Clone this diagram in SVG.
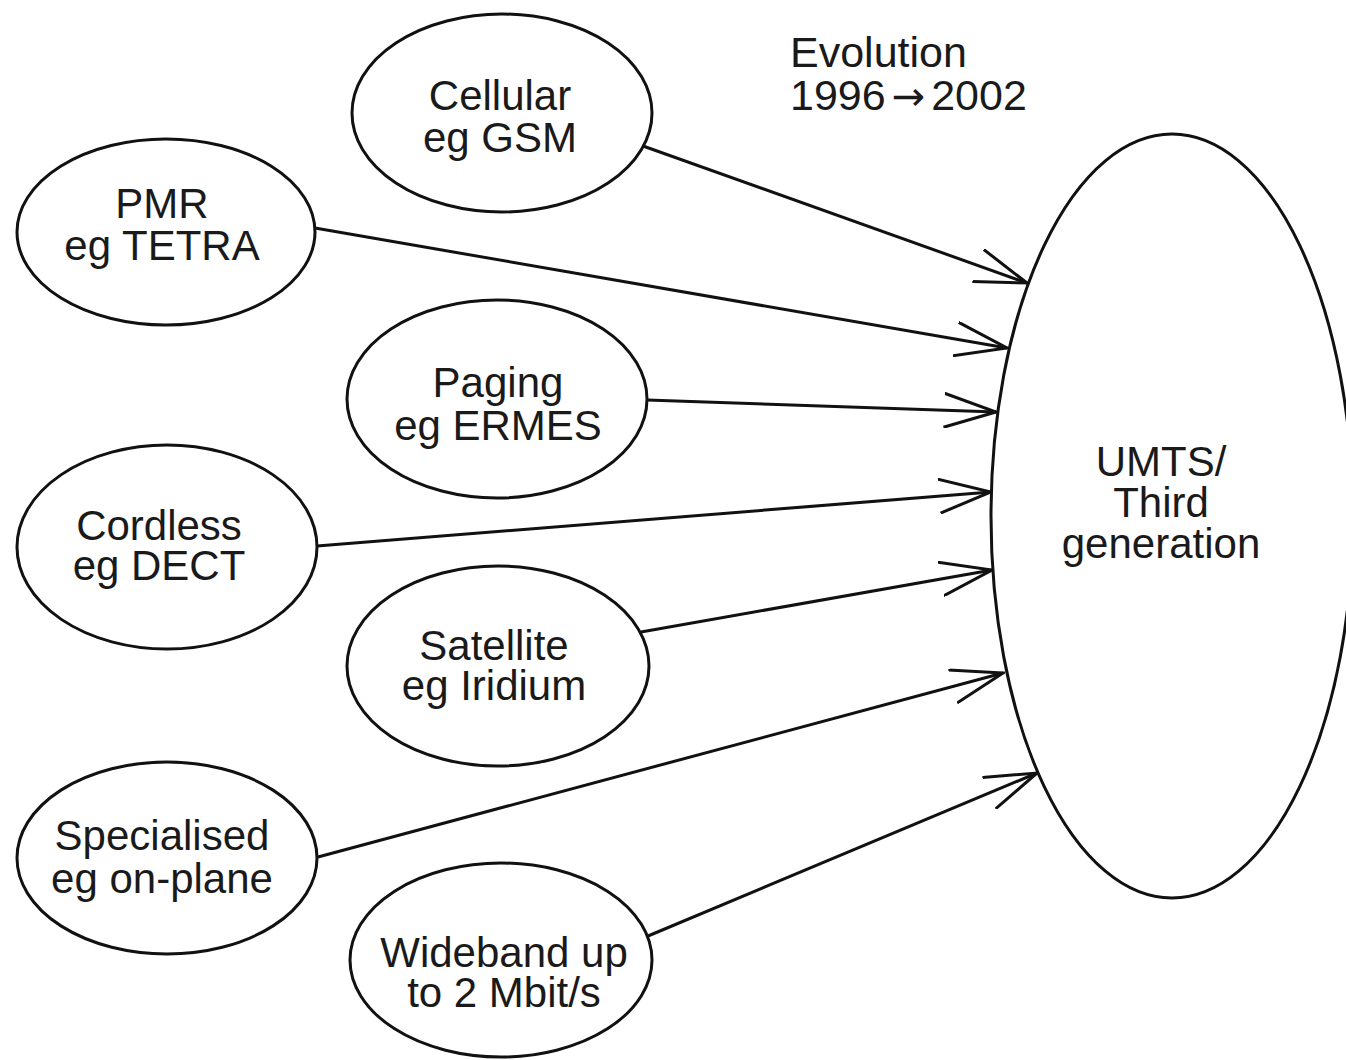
<svg xmlns="http://www.w3.org/2000/svg" width="1346" height="1060" viewBox="0 0 1346 1060">
<style>
.n{fill:#fff;stroke:#111;stroke-width:3}
.t{font-family:"Liberation Sans",Arial,sans-serif;font-size:42px;fill:#1a1a1a;text-anchor:middle}
.c{fill:none;stroke:#111;stroke-width:3}
</style>
<defs>
<marker id="ah" markerUnits="userSpaceOnUse" viewBox="0 0 54 36" refX="52" refY="18" markerWidth="54" markerHeight="36" orient="auto">
<path d="M0,1 L52,18 L0,35" fill="none" stroke="#111" stroke-width="3"/>
</marker>
</defs>
<rect width="1346" height="1060" fill="#fff"/>
<g id="connectors">
<line class="c" x1="643" y1="146" x2="1027" y2="283" marker-end="url(#ah)"/>
<line class="c" x1="315" y1="228" x2="1007" y2="348" marker-end="url(#ah)"/>
<line class="c" x1="647" y1="400" x2="996" y2="412" marker-end="url(#ah)"/>
<line class="c" x1="317" y1="546" x2="991" y2="492" marker-end="url(#ah)"/>
<line class="c" x1="641" y1="632" x2="992" y2="570" marker-end="url(#ah)"/>
<line class="c" x1="318" y1="857" x2="1003" y2="673" marker-end="url(#ah)"/>
<line class="c" x1="648" y1="936" x2="1037" y2="773" marker-end="url(#ah)"/>
</g>
<g id="cellular"><ellipse class="n" cx="502" cy="113" rx="150" ry="99"/><text class="t" x="500" y="110">Cellular</text><text class="t" x="500" y="152">eg GSM</text></g>
<g id="pmr"><ellipse class="n" cx="166" cy="232" rx="149" ry="93"/><text class="t" x="162" y="218">PMR</text><text class="t" x="162" y="260">eg TETRA</text></g>
<g id="paging"><ellipse class="n" cx="497" cy="399" rx="150" ry="99"/><text class="t" x="498" y="397">Paging</text><text class="t" x="498" y="440">eg ERMES</text></g>
<g id="cordless"><ellipse class="n" cx="167" cy="547" rx="150" ry="102"/><text class="t" x="159" y="540">Cordless</text><text class="t" x="159" y="580">eg DECT</text></g>
<g id="satellite"><ellipse class="n" cx="498" cy="666" rx="151" ry="100"/><text class="t" x="494" y="660">Satellite</text><text class="t" x="494" y="700">eg Iridium</text></g>
<g id="specialised"><ellipse class="n" cx="167" cy="858" rx="150" ry="96"/><text class="t" x="162" y="850">Specialised</text><text class="t" x="162" y="893">eg on-plane</text></g>
<g id="wideband"><ellipse class="n" cx="501" cy="960" rx="151" ry="97"/><text class="t" x="504" y="967">Wideband up</text><text class="t" x="504" y="1007">to 2 Mbit/s</text></g>
<g id="umts"><ellipse class="n" cx="1172" cy="516" rx="181" ry="382"/><text class="t" x="1161" y="476">UMTS/</text><text class="t" x="1161" y="517">Third</text><text class="t" x="1161" y="558">generation</text></g>
<g id="evolution"><text class="t" style="text-anchor:start;font-size:43px" x="790" y="67">Evolution</text><text class="t" style="text-anchor:start;font-size:43px" x="790" y="110">1996<tspan dx="6" style="font-family:'DejaVu Sans',sans-serif;font-size:40px">→</tspan><tspan dx="6">2002</tspan></text></g>
</svg>
